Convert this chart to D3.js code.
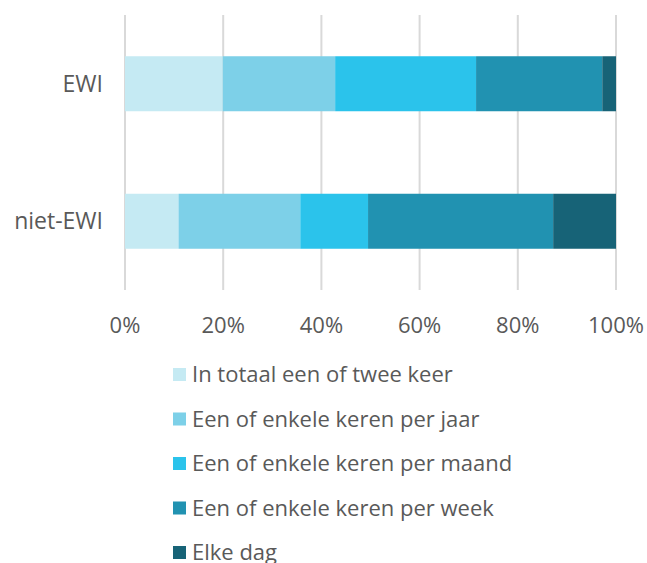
<!DOCTYPE html>
<html><head><meta charset="utf-8">
<script src="https://cdn.jsdelivr.net/npm/d3@7"></script>
<style>body{margin:0;background:#fff}svg{display:block}</style>
</head><body>
<script>
const categories = ["EWI", "niet-EWI"];
const seriesNames = ["In totaal een of twee keer","Een of enkele keren per jaar","Een of enkele keren per maand","Een of enkele keren per week","Elke dag"];
const s1 = [19.9, 10.9];
const s2 = [22.9, 24.8];
const s3 = [28.7, 13.8];
const s4 = [25.7, 37.7];
const s5 = [2.8, 12.8];
const colors = ["#C5EAF3","#7DD0E8","#2BC3EB","#2192B1","#176377"];
const ticks = [0,20,40,60,80,100];
const tickLabels = ["0%","20%","40%","60%","80%","100%"];

const W=647,H=563;
const svg=d3.select("body").append("svg").attr("width",W).attr("height",H);
const x=d3.scaleLinear().domain([0,100]).range([125,616]);
const y=d3.scaleBand().domain(categories).range([15,290]).paddingInner(0.6).paddingOuter(0.3);
const txt="#595959";
const font="'Open Sans', sans-serif";

// gridlines
svg.append("g").selectAll("line").data(ticks).join("line")
  .attr("x1",d=>x(d)).attr("x2",d=>x(d)).attr("y1",15).attr("y2",290)
  .attr("stroke","#D9D9D9").attr("stroke-width",2);

const series=[s1,s2,s3,s4,s5];
const rows=categories.map((c,i)=>{const o={cat:c};series.forEach((s,j)=>o["k"+j]=s[i]);return o;});
const stack=d3.stack().keys(series.map((_,j)=>"k"+j))(rows);
svg.append("g").selectAll("g").data(stack).join("g").attr("fill",(d,i)=>colors[i])
  .selectAll("rect").data(d=>d).join("rect")
  .attr("x",d=>x(d[0])).attr("width",d=>x(d[1])-x(d[0]))
  .attr("y",d=>y(d.data.cat)).attr("height",y.bandwidth());

// category labels
svg.append("g").selectAll("text").data(categories).join("text")
  .attr("x",103).attr("y",d=>y(d)+y.bandwidth()/2).attr("dy","0.35em")
  .attr("text-anchor","end").attr("fill",txt).style("font-family",font).style("font-size","23px")
  .text(d=>d);

// tick labels
svg.append("g").selectAll("text").data(ticks).join("text")
  .attr("x",d=>x(d)).attr("y",325).attr("dy","0.35em")
  .attr("text-anchor","middle").attr("fill",txt).style("font-family",font).style("font-size","22px")
  .text((d,i)=>tickLabels[i]);

// legend
const lg=svg.append("g").selectAll("g").data(seriesNames).join("g")
  .attr("transform",(d,i)=>`translate(173,${374.5+i*44.5})`);
lg.append("rect").attr("x",0).attr("y",-6.5).attr("width",13).attr("height",13).attr("fill",(d,i)=>colors[i]);
lg.append("text").attr("x",19).attr("dy","0.35em").attr("fill",txt)
  .style("font-family",font).style("font-size","22px").text(d=>d);
</script>
</body></html>
